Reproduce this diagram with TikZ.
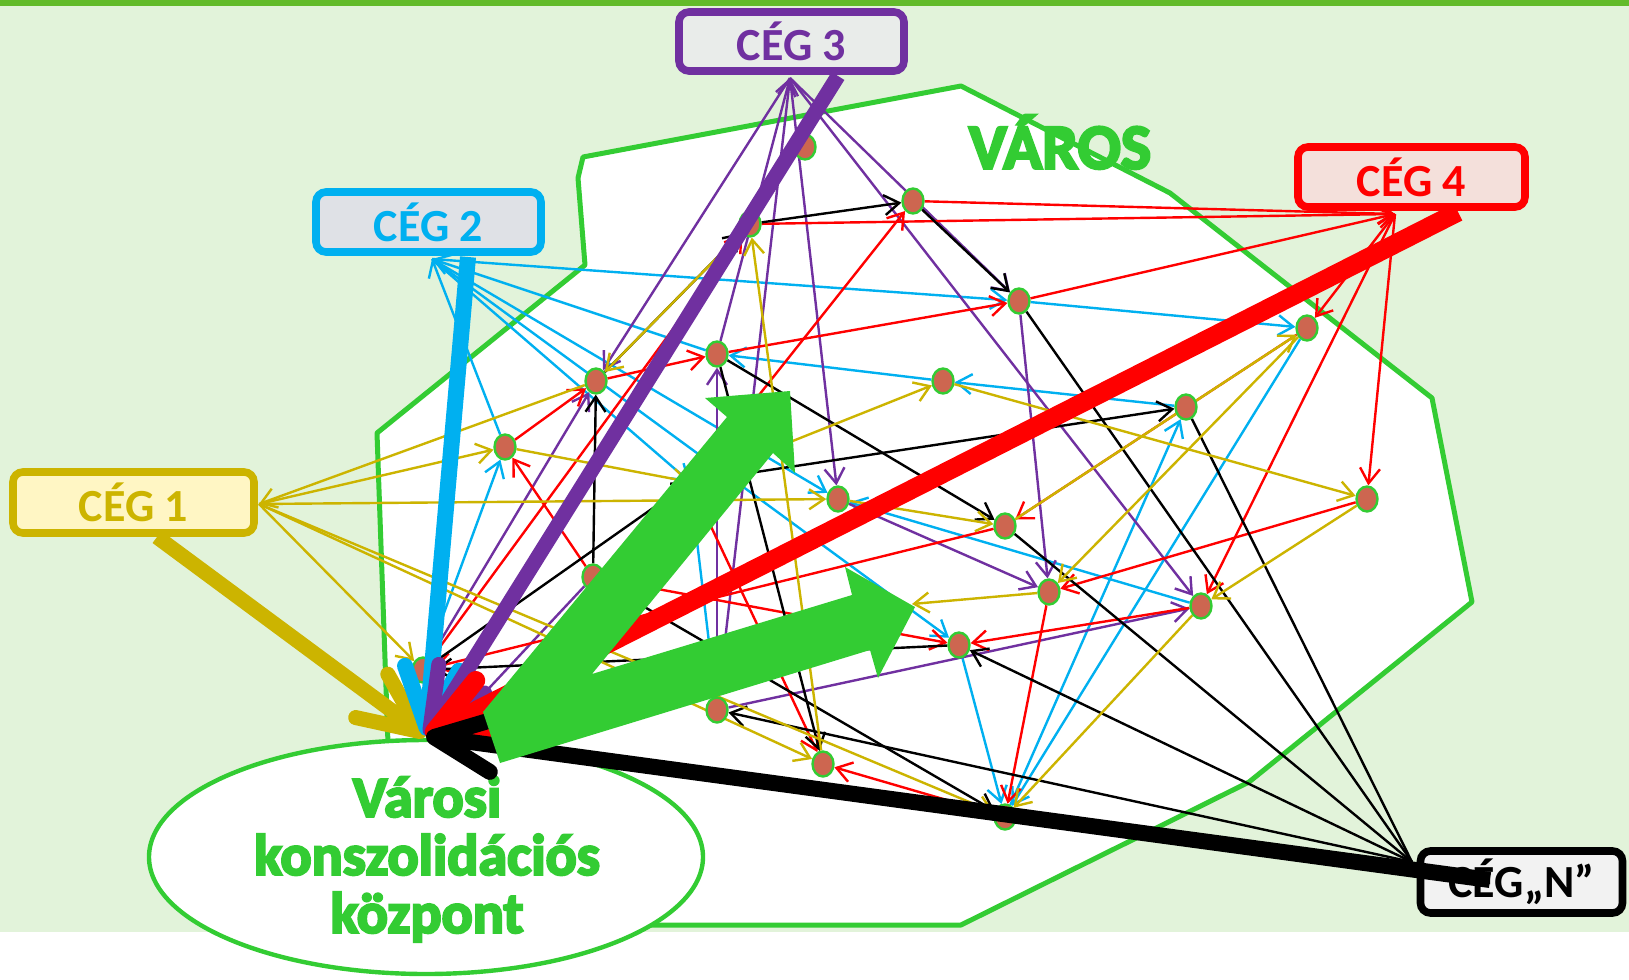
\documentclass[tikz,border=0pt]{standalone}
\usepackage{fontspec}
\setmainfont{Carlito}
\newfontfamily\heavyfont{Carlito}[BoldFeatures={FakeBold=4}]
\usetikzlibrary{arrows.meta,shapes.geometric}
\definecolor{bgg}{HTML}{E2F3DA}
\definecolor{topg}{HTML}{62BB2A}
\definecolor{grn}{HTML}{33CC33}
\definecolor{cy}{HTML}{00B0F0}
\definecolor{pu}{HTML}{7030A0}
\definecolor{rd}{HTML}{FF0000}
\definecolor{ye}{HTML}{CCB400}
\definecolor{dotc}{HTML}{CD6650}
\pgfdeclarelayer{bg}
\pgfdeclarelayer{edges}
\pgfdeclarelayer{fat}
\pgfdeclarelayer{top}
\pgfsetlayers{bg,edges,main,fat,top}
\begin{document}
\begin{tikzpicture}[x=0.5pt,y=-0.5pt,
  citydot/.style={ellipse, fill=dotc, draw=grn, line width=1.2pt, minimum width=10.5pt, minimum height=12.5pt, inner sep=0pt},
  cegbox/.style={draw=#1, text=#1, line width=3.8pt, rounded corners=5pt, inner sep=0pt, font=\bfseries\fontsize{23}{26}\selectfont},
  ln/.style={line width=1.2pt, -{Straight Barb[length=7.5pt,width=10pt]}},
  ln0/.style={line width=1.2pt},
  fat/.style={line width=#1, -{Straight Barb[round,length=30pt,width=27pt]}},
  bigtext/.style={font=\heavyfont\bfseries\fontsize{#1}{#1}\selectfont, align=center, inner sep=0pt}
]
\useasboundingbox (0,0) rectangle (1629,980);
\begin{pgfonlayer}{bg}
\fill[bgg] (0,0) rectangle (1629,932);
\fill[topg] (0,0) rectangle (1629,6);
\draw[grn, line width=2.5pt, fill=white, line join=round] (583,157) -- (961,86) -- (1170,193) -- (1432,398) -- (1472,602) -- (1249,782) -- (961,925) -- (600,925) -- (390,800) -- (377,433) -- (585,265) -- (578,178) -- cycle;
\node[ellipse, draw=grn, line width=2.2pt, fill=white, minimum width=277pt, minimum height=117pt] (centre) at (426,857) {};
\end{pgfonlayer}

% boxes
\node[cegbox=pu, fill={rgb,255:red,233;green,236;blue,234}, minimum width=112.5pt, minimum height=29.5pt] (ceg3) at (791.5,41.5) {CÉG 3};
\node[cegbox=cy, fill={rgb,255:red,223;green,225;blue,230}, minimum width=112.5pt, minimum height=30pt] (ceg2) at (428.5,222) {CÉG 2};
\node[cegbox=rd, fill={rgb,255:red,244;green,224;blue,219}, minimum width=113.5pt, minimum height=30pt] (ceg4) at (1411.5,177) {CÉG 4};
\node[cegbox=ye, fill={rgb,255:red,255;green,246;blue,196}, minimum width=120.5pt, minimum height=30.5pt] (ceg1) at (133.5,502.5) {CÉG 1};
\node[cegbox=black, fill={rgb,255:red,242;green,242;blue,242}, minimum width=101pt, minimum height=31pt] (cegn) at (1521.5,882) {CÉG„N”};

% texts
\node[bigtext=32, text=grn] (varos) at (1060,142) {VÁROS};
\node[bigtext=29, text=grn] (centretext) at (427,859) {Városi\\konszolidációs\\központ};

% dots
\node[citydot] (A) at (805,147) {};
\node[citydot] (U) at (750,224) {};
\node[citydot] (B) at (913,201) {};
\node[citydot] (C) at (1019,301) {};
\node[citydot] (D) at (1307,328) {};
\node[citydot] (E) at (717,354) {};
\node[citydot] (F) at (596,381) {};
\node[citydot] (G) at (943,381) {};
\node[citydot] (H) at (1186,407) {};
\node[citydot] (I) at (505,447) {};
\node[citydot] (J) at (838,499) {};
\node[citydot] (K) at (1367,499) {};
\node[citydot] (L) at (1005,526) {};
\node[citydot] (M) at (593,577) {};
\node[citydot] (N) at (1049,592) {};
\node[citydot] (O) at (1201,606) {};
\node[citydot] (P) at (959,645) {};
\node[citydot] (Q) at (423,670) {};
\node[citydot] (R) at (717,710) {};
\node[citydot] (S) at (823,764) {};
\node[citydot] (T) at (1005,817) {};
\coordinate (V) at (690,482);
\coordinate (W) at (912,604);
\coordinate (hub) at (426,736);
\coordinate (hubp) at (478,700);
\coordinate (c1p) at (259,504);
\coordinate (c2p) at (432,259);
\coordinate (c3p) at (790,78);
\coordinate (c4p) at (1395,214);
\coordinate (cnp) at (1412,862);
\coordinate (t1) at (157,537);
\coordinate (t2) at (468,257);
\coordinate (t3) at (838,76);
\coordinate (t4) at (1458,212);
\coordinate (tn) at (1490,880);

\begin{pgfonlayer}{edges}
% cyan
\draw[ln,cy] (E) -- (c2p);
\draw[ln,cy] (I) -- (c2p);
\draw[ln,cy] (c2p) -- (C);
\draw[ln,cy] (c2p) -- (V);
\draw[ln,cy] (c2p) -- (J);
\draw[ln,cy] (c2p) -- (P);
\draw[ln,cy] (Q) -- (I);
\draw[ln,cy] (H) -- (G);
\draw[ln,cy] (G) -- (E);
\draw[ln,cy] (C) -- (D);
\draw[ln,cy] (D) -- (T);
\draw[ln,cy] (T) -- (H);
\draw[ln,cy] (P) -- (T);
\draw[ln,cy] (O) -- (J);
\draw[ln,cy] (V) -- (R);
% purple
\draw[ln,pu] (c3p) -- (F);
\draw[ln,pu] (E) -- (c3p);
\draw[ln,pu] (R) -- (c3p);
\draw[ln,pu] (R) -- (E);
\draw[ln,pu] (c3p) -- (J);
\draw[ln,pu] (c3p) -- (C);
\draw[ln,pu] (c3p) -- (O);
\draw[ln,pu] (C) -- (N);
\draw[ln,pu] (J) -- (N);
\draw[ln,pu] (R) -- (O);
\draw[ln,pu] (Q) -- (F);
\draw[ln,pu] (M) -- (hubp);
% red
\draw[ln,rd] (B) -- (c4p);
\draw[ln,rd] (U) -- (c4p);
\draw[ln,rd] (C) -- (c4p);
\draw[ln,rd] (c4p) -- (D);
\draw[ln,rd] (c4p) -- (K);
\draw[ln,rd] (c4p) -- (O);
\draw[ln,rd] (D) -- (L);
\draw[ln,rd] (K) -- (N);
\draw[ln,rd] (O) -- (P);
\draw[ln,rd] (L) -- (Q);
\draw[ln,rd] (N) -- (T);
\draw[ln,rd] (E) -- (C);
\draw[ln,rd] (F) -- (E);
\draw[ln,rd] (I) -- (F);
\draw[ln,rd] (M) -- (I);
\draw[ln,rd] (V) -- (B);
\draw[ln,rd] (Q) -- (U);
\draw[ln,rd] (M) -- (P);
\draw[ln,rd] (V) -- (S);
\draw[ln,rd] (T) -- (S);
% black
\draw[ln0] (cnp) -- (H);
\draw[ln0] (cnp) -- (C);
\draw[ln0] (cnp) -- (L);
\draw[ln] (cnp) -- (P);
\draw[ln] (cnp) -- (R);
\draw[ln] (U) -- (B);
\draw[ln] (B) -- (C);
\draw[ln] (F) -- (U);
\draw[ln] (M) -- (F);
\draw[ln] (E) -- (L);
\draw[ln] (Q) -- (V);
\draw[ln] (V) -- (H);
\draw[ln] (P) -- (Q);
\draw[ln] (M) -- (T);
\draw[ln] (E) -- (S);
% yellow
\draw[ln,ye] (F) -- (c1p);
\draw[ln,ye] (c1p) -- (I);
\draw[ln,ye] (c1p) -- (J);
\draw[ln,ye] (c1p) -- (Q);
\draw[ln,ye] (c1p) -- (S);
\draw[ln,ye] (c1p) -- (T);
\draw[ln,ye] (I) -- (V);
\draw[ln,ye] (S) -- (U);
\draw[ln,ye] (U) -- (F);
\draw[ln,ye] (V) -- (G);
\draw[ln,ye] (G) -- (K);
\draw[ln,ye] (J) -- (L);
\draw[ln,ye] (L) -- (D);
\draw[ln,ye] (D) -- (N);
\draw[ln,ye] (K) -- (O);
\draw[ln,ye] (O) -- (T);
\draw[ln,ye] (N) -- (W);
\end{pgfonlayer}

\begin{pgfonlayer}{fat}
\draw[fat=7.5pt, ye] (t1) -- (hub);
\draw[fat=8pt, cy] (t2) -- (hub);
\draw[fat=7.5pt, pu] (t3) -- (hub);
\draw[fat=9.5pt, rd] (t4) -- (hub);
\draw[fat=8pt, black] (tn) -- (hub);
\end{pgfonlayer}

\begin{pgfonlayer}{top}
\fill[grn] (483,712) -- (727,417) -- (705,398) -- (790,391) -- (795,473) -- (773,453) -- (592,674) -- (852,595) -- (845,567) -- (915,607) -- (878,678) -- (870,650) -- (500,763) -- cycle;
\end{pgfonlayer}
\end{tikzpicture}
\end{document}
